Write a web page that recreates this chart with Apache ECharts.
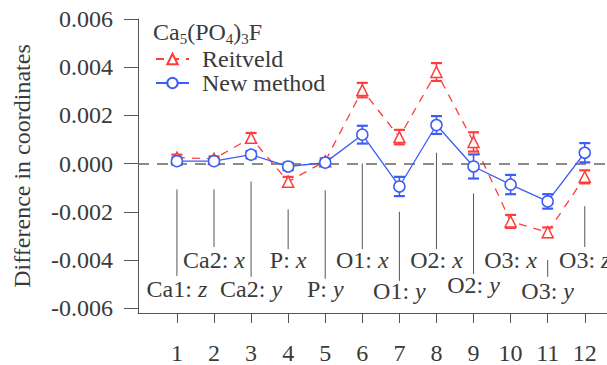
<!DOCTYPE html>
<html><head><meta charset="utf-8">
<script src="https://cdn.jsdelivr.net/npm/echarts@6/dist/echarts.min.js"></script>
<style>html,body{margin:0;padding:0;background:#fff}#c{width:607px;height:365px}</style>
</head><body><div id="c"></div>
<script>
// ---- data ----
const positions = [1, 2, 3, 4, 5, 6, 7, 8, 9, 10, 11, 12];
const reitveld    = [0.00025, 0.0002, 0.00107, -0.00075, 0.0001, 0.00305, 0.0011, 0.0038, 0.0009, -0.0024, -0.00285, -0.00055];
const reitveldErr = [0.00012, 0.0001, 0.0002, 0.0002, 0.00012, 0.0003, 0.0003, 0.00037, 0.0004, 0.00027, 0.0002, 0.00027];
const newMethod    = [0.0001, 0.0001, 0.00037, -0.00012, 0.00004, 0.0012, -0.00095, 0.0016, -0.00012, -0.00087, -0.00157, 0.00045];
const newMethodErr = [0.00015, 0.00012, 0.00015, 0.00015, 0.00012, 0.00037, 0.0004, 0.00037, 0.0005, 0.0004, 0.0003, 0.0004];
const yTicks = [-0.006, -0.004, -0.002, 0, 0.002, 0.004, 0.006];
const xTicks = [1, 2, 3, 4, 5, 6, 7, 8, 9, 10, 11, 12];
// annotation labels (atom : coordinate) with leader lines
const annotAtom   = ['Ca1', 'Ca2', 'Ca2', 'P', 'P', 'O1', 'O1', 'O2', 'O2', 'O3', 'O3', 'O3'];
const annotAxis   = ['z', 'x', 'y', 'x', 'y', 'x', 'y', 'x', 'y', 'x', 'y', 'z'];
const annotTop    = [-0.00107, -0.00107, -0.00074, -0.0019, -0.00111, 0, -0.002, 0.00045, -0.00124, null, -0.004, -0.00177];
const annotBottom = [-0.00466, -0.00346, -0.0047, -0.00355, -0.00478, -0.00355, -0.00487, -0.00355, -0.00458, null, -0.0047, -0.00346];
const annotLabelY = [-0.0052, -0.004, -0.0052, -0.004, -0.0052, -0.004, -0.0053, -0.004, -0.00505, -0.004, -0.0053, -0.004];

const FONT = 'Liberation Serif';
const RED = '#ff3c3c';
const BLUE = '#3c5cf5';
const TXT = '#3a3a3a';
const T = { fontFamily: FONT, fontWeight: 'normal', fontSize: 24, color: TXT };

function errSeries(name, vals, errs, color, z) {
  return {
    name: name, type: 'custom', z: z, silent: true,
    encode: { x: 0, y: [1, 2] },
    data: positions.map((x, i) => [x, vals[i] - errs[i], vals[i] + errs[i]]),
    renderItem: function (params, api) {
      const x = api.value(0);
      const p1 = api.coord([x, api.value(2)]);
      const p2 = api.coord([x, api.value(1)]);
      const hw = 5.5;
      return { type: 'group', children: [
        { type: 'line', shape: { x1: p1[0], y1: p1[1], x2: p2[0], y2: p2[1] }, style: { stroke: color, lineWidth: 1.6 } },
        { type: 'line', shape: { x1: p1[0] - hw, y1: p1[1], x2: p1[0] + hw, y2: p1[1] }, style: { stroke: color, lineWidth: 2.2 } },
        { type: 'line', shape: { x1: p2[0] - hw, y1: p2[1], x2: p2[0] + hw, y2: p2[1] }, style: { stroke: color, lineWidth: 2.2 } }
      ] };
    }
  };
}

const chart = echarts.init(document.getElementById('c'), null, { renderer: 'svg' });
chart.setOption({
  animation: false,
  backgroundColor: '#fff',
  textStyle: { fontFamily: FONT },
  title: {
    left: 153, top: 18, padding: 0,
    text: '{n|Ca}{s|5}{n|(PO}{s|4}{n|)}{s|3}{n|F}',
    textStyle: {
      fontFamily: FONT, fontWeight: 'normal',
      rich: {
        n: Object.assign({}, T, { lineHeight: 28 }),
        s: Object.assign({}, T, { fontSize: 15, lineHeight: 14, verticalAlign: 'bottom' })
      }
    }
  },
  legend: {
    left: 155, top: 47, orient: 'vertical', padding: 0,
    itemWidth: 33, itemHeight: 13, itemGap: 0,
    data: ['Reitveld', 'New method'],
    formatter: name => '{t|' + name + '}',
    textStyle: { fontFamily: FONT, fontSize: 24, color: TXT, padding: [0, 0, 0, 8],
      rich: { t: Object.assign({}, T, { lineHeight: 20 }) } }
  },
  grid: { left: 138, right: 0, top: 19, bottom: 50 },
  xAxis: {
    type: 'value', min: -0.05, max: 12.6,
    splitLine: { show: false },
    axisLine: { show: true, onZero: false, lineStyle: { color: '#555', width: 1 } },
    axisTick: { show: true, length: 10, lineStyle: { color: '#555' }, customValues: xTicks },
    axisLabel: { fontFamily: FONT, fontSize: 24, color: TXT, margin: 28, customValues: xTicks,
      formatter: v => '{t|' + v + '}', rich: { t: T } }
  },
  yAxis: {
    type: 'value', min: -0.0062, max: 0.006,
    name: '{t|Difference in coordinates}', nameLocation: 'middle', nameGap: 104,
    nameTextStyle: { fontFamily: FONT, fontSize: 24, color: TXT, rich: { t: T } },
    splitLine: { show: false },
    axisLine: { show: true, onZero: false, lineStyle: { color: '#555', width: 1 } },
    axisTick: { show: true, length: 14, lineStyle: { color: '#555' }, customValues: yTicks },
    axisLabel: { fontFamily: FONT, fontSize: 24, color: TXT, margin: 25, customValues: yTicks,
      formatter: v => '{t|' + v.toFixed(3) + '}', rich: { t: T } }
  },
  series: [
    {
      name: 'annotations', type: 'custom', z: 1, silent: true,
      encode: { x: 0, y: 3 },
      data: positions.map((x, i) => [x, annotTop[i], annotBottom[i], annotLabelY[i], i]),
      renderItem: function (params, api) {
        const i = params.dataIndex;
        const x = positions[i];
        const children = [];
        if (annotTop[i] !== null) {
          const a = api.coord([x, annotTop[i]]);
          const b = api.coord([x, annotBottom[i]]);
          children.push({ type: 'line', shape: { x1: a[0], y1: a[1], x2: b[0], y2: b[1] },
            style: { stroke: '#555', lineWidth: 1 } });
        }
        const p = api.coord([x, annotLabelY[i]]);
        children.push({ type: 'text', x: p[0], y: p[1], style: {
          text: '{a|' + annotAtom[i] + ': }{b|' + annotAxis[i] + '}',
          align: 'center', verticalAlign: 'middle',
          rich: {
            a: { fontFamily: FONT, fontSize: 24, fill: TXT, color: TXT },
            b: { fontFamily: FONT, fontSize: 24, fontStyle: 'italic', fill: TXT, color: TXT }
          }
        } });
        return { type: 'group', children: children };
      },
      markLine: {
        silent: true, symbol: 'none', label: { show: false },
        lineStyle: { type: [11, 8], color: '#666', width: 1.5 },
        data: [{ yAxis: 0 }]
      }
    },
    errSeries('Reitveld err', reitveld, reitveldErr, RED, 3),
    {
      name: 'Reitveld', type: 'line', z: 4,
      data: positions.map((x, i) => [x, reitveld[i]]),
      symbol: 'triangle', symbolSize: 11,
      lineStyle: { color: RED, width: 1.3, type: [8, 7] },
      itemStyle: { color: '#fff', borderColor: RED, borderWidth: 1.5 }
    },
    errSeries('New method err', newMethod, newMethodErr, BLUE, 5),
    {
      name: 'New method', type: 'line', z: 6,
      data: positions.map((x, i) => [x, newMethod[i]]),
      symbol: 'circle', symbolSize: 11,
      lineStyle: { color: BLUE, width: 1.3 },
      itemStyle: { color: '#fff', borderColor: BLUE, borderWidth: 1.5 }
    }
  ]
});
</script>
</body></html>
